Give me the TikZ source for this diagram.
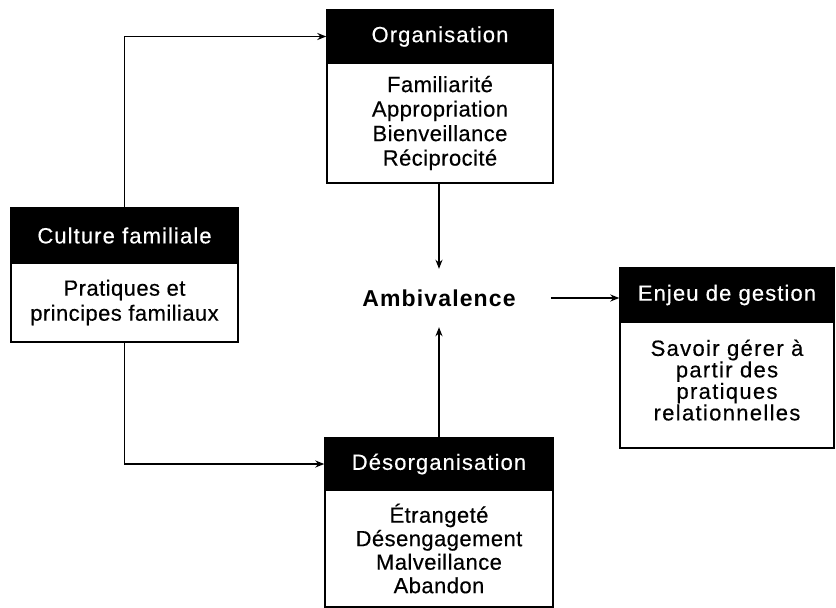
\documentclass[tikz,border=0pt]{standalone}
\usepackage{fontspec}
\setmainfont{Liberation Sans}
\newfontfamily\hdrfam[LetterSpace=5,FakeBold=0.4]{Liberation Sans}
\newfontfamily\bodyfam[LetterSpace=2,FakeBold=0.4]{Liberation Sans}
\newfontfamily\widefam[LetterSpace=6,FakeBold=0.4]{Liberation Sans}
\newfontfamily\ambfam[LetterSpace=5]{Liberation Sans}
\usetikzlibrary{arrows.meta}
\begin{document}
\begin{tikzpicture}[x=1pt,y=-1pt,
  hdr/.style={draw=black, fill=black, text=white, line width=1.4pt, inner sep=0pt,
    font=\hdrfam\fontsize{22}{24}\selectfont},
  bodybox/.style={draw=black, line width=1.4pt, fill=white, inner sep=0pt, align=center,
    font=\bodyfam\fontsize{22}{24.5}\selectfont},
  link/.style={line width=1.4pt, -{Stealth[length=9pt,width=7pt]}}]
\useasboundingbox (0,0) rectangle (836,608);

% Organisation
\node[hdr, minimum width=226pt, minimum height=53pt] (orghdr) at (440,36.5) {Organisation};
\node[bodybox, minimum width=226pt, minimum height=120pt] (orgbody) at (440,123)
  {Familiarité\\Appropriation\\Bienveillance\\Réciprocité};

% Culture familiale
\node[hdr, minimum width=227pt, minimum height=55pt] (culhdr) at (124.5,235.5) {Culture familiale};
\node[bodybox, minimum width=227pt, minimum height=79pt,
  font=\bodyfam\fontsize{22}{25}\selectfont] (culbody) at (124.5,302.5)
  {Pratiques et\\principes familiaux};

% Enjeu de gestion
\node[hdr, minimum width=214pt, minimum height=54pt] (enjhdr) at (727,295) {Enjeu de gestion};
\node[bodybox, minimum width=214pt, minimum height=126pt, text depth=10pt,
  font=\widefam\fontsize{22}{20}\selectfont] (enjbody) at (727,385)
  {Savoir gérer à\\partir des\\pratiques\\relationnelles};

% Désorganisation
\node[hdr, minimum width=228pt, minimum height=52pt] (deshdr) at (439,464) {Désorganisation};
\node[bodybox, minimum width=228pt, minimum height=117pt,
  font=\bodyfam\fontsize{22}{23.5}\selectfont] (desbody) at (439,548.5)
  {Étrangeté\\Désengagement\\Malveillance\\Abandon};

% Ambivalence
\node[font=\ambfam\bfseries\fontsize{23}{24}\selectfont, inner xsep=35pt,
  minimum height=58pt] (amb) at (439,298) {Ambivalence};

% Connectors
\draw[link] (culhdr.north) |- (orghdr.west);
\draw[link] (culbody.south) |- (deshdr.west);
\draw[link] (orgbody.south -| amb) -- (amb.north);
\draw[link] (deshdr.north -| amb) -- (amb.south);
\draw[link] (amb.east) -- (amb.east -| enjhdr.west);
\end{tikzpicture}
\end{document}
